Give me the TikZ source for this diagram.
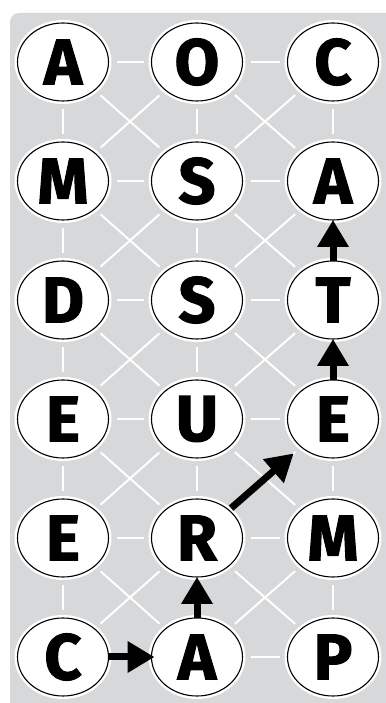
\documentclass[tikz,border=0pt]{standalone}
\usepackage{fontspec}
\setmainfont{Fira Sans}
\newfontfamily\letterfont{Fira Sans}[BoldFeatures={FakeBold=1.6}]
\usetikzlibrary{arrows.meta,shapes.geometric}
\definecolor{bggray}{RGB}{215,216,218}
\tikzset{
  cell/.style={shape=ellipse, minimum width=91bp, minimum height=78bp, inner sep=0pt, outer sep=0pt,
    fill=white, draw=black, line width=1.1bp,
    preaction={draw=white, line width=6bp},
    font=\letterfont\bfseries\fontsize{65}{65}\selectfont},
  gridline/.style={draw=white, line width=2bp, shorten <=8bp, shorten >=8bp},
  patharrow/.style={draw=black, line width=7bp, -{Triangle[length=27bp,width=30bp]}}
}
\begin{document}
\begin{tikzpicture}[x=1bp,y=1bp]
\useasboundingbox (0,0) rectangle (385,703);
\fill[bggray, rounded corners=9bp] (10,-10) rectangle (395,690);
% row 1
\node[cell] (n11) at (63,641) {A};
\node[cell] (n12) at (197,641) {O};
\node[cell] (n13) at (333,641) {C};
% row 2
\node[cell] (n21) at (63,522) {M};
\node[cell] (n22) at (197,522) {S};
\node[cell] (n23) at (333,522) {A};
% row 3
\node[cell] (n31) at (63,403) {D};
\node[cell] (n32) at (197,403) {S};
\node[cell] (n33) at (333,403) {T};
% row 4
\node[cell] (n41) at (63,284) {E};
\node[cell] (n42) at (197,284) {U};
\node[cell] (n43) at (333,284) {E};
% row 5
\node[cell] (n51) at (63,165) {E};
\node[cell] (n52) at (197,165) {R};
\node[cell] (n53) at (333,165) {M};
% row 6
\node[cell] (n61) at (63,46) {C};
\node[cell] (n62) at (197,46) {A};
\node[cell] (n63) at (333,46) {P};
% grid lines: horizontal
\foreach \r in {1,...,6}{
  \draw[gridline] (n\r1) -- (n\r2);
  \draw[gridline] (n\r2) -- (n\r3);
}
% vertical and diagonal
\foreach \r/\s in {1/2,2/3,3/4,4/5,5/6}{
  \foreach \c in {1,2,3}{
    \draw[gridline] (n\r\c) -- (n\s\c);
  }
  \foreach \c/\d in {1/2,2/3}{
    \draw[gridline] (n\r\c) -- (n\s\d);
    \draw[gridline] (n\r\d) -- (n\s\c);
  }
}
% path arrows
\draw[patharrow, shorten >=-3bp] (n61) -- (n62);
\draw[patharrow] (n62) -- (n52);
\draw[patharrow, shorten <=3bp, shorten >=10bp] (n52) -- (n43);
\draw[patharrow] (n43) -- (n33);
\draw[patharrow] (n33) -- (n23);
\end{tikzpicture}
\end{document}
